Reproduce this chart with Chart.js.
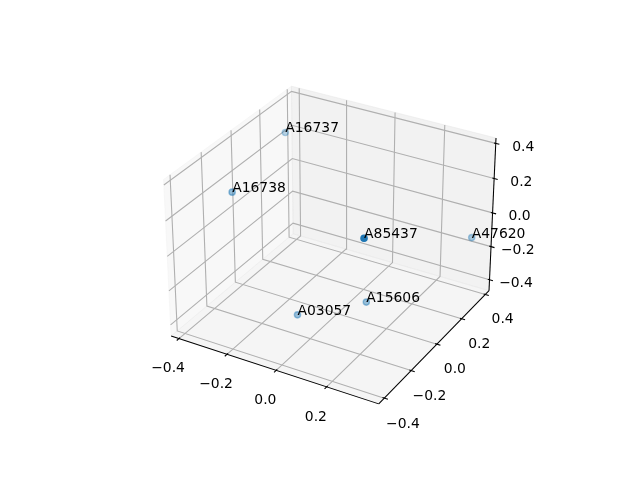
<!DOCTYPE html>
<html>
<head>
<meta charset="utf-8">
<script src="https://cdn.jsdelivr.net/npm/chart.js@4.4.0/dist/chart.umd.min.js"></script>
<style>
  html, body { margin: 0; padding: 0; background: #fff; }
  canvas { display: block; }
</style>
</head>
<body>
<canvas id="chart" width="640" height="480"></canvas>
<script>
// ---------------- Data ----------------
const pointLabels = ["A16737", "A16738", "A03057", "A85437", "A47620", "A15606"];
const xValues = [-0.36, -0.38, -0.087, 0.31, 0.348, 0.115];
const yValues = [0.257, -0.089, -0.139, -0.385, 0.376, 0.005];
const zValues = [0.289, 0.153, -0.41, 0.373, -0.13, -0.35];
const tickValues = [-0.4, -0.2, 0.0, 0.2, 0.4];

// ---------------- 3D view (elev 30, azim -60, perspective) ----------------
const elev = 30 * Math.PI / 180;
const azim = -60 * Math.PI / 180;
const dist = 10;
const aspectNorm = Math.hypot(4, 4, 3);
const box = [4, 4, 3].map(a => a * 1.8294640721620434 / aspectNorm);

function limitsOf(vals) {
  const lo = Math.min(...vals), hi = Math.max(...vals);
  const m = (hi - lo) * 0.05;
  return [lo - m, hi + m];
}
const lims = [limitsOf(xValues), limitsOf(yValues), limitsOf(zValues)];
// panes and axis lines sit a little outside the limits
const edges = lims.map(([lo, hi]) => { const d = (hi - lo) / 48; return [lo - d, hi + d]; });
const deltas = edges.map(([lo, hi]) => (hi - lo) / 12);

const dot = (a, b) => a[0] * b[0] + a[1] * b[1] + a[2] * b[2];
const w = [Math.cos(elev) * Math.cos(azim), Math.cos(elev) * Math.sin(azim), Math.sin(elev)];
const eye = box.map((b, i) => b / 2 + dist * w[i]);
let u = [-w[1], w[0], 0];
const un = Math.hypot(...u);
u = u.map(c => c / un);
const v = [w[1] * u[2] - w[2] * u[1], w[2] * u[0] - w[0] * u[2], w[0] * u[1] - w[1] * u[0]];

function project(x, y, z) {
  const p = [x, y, z].map((c, i) => (c - lims[i][0]) / (lims[i][1] - lims[i][0]) * box[i]);
  const d = p.map((c, i) => c - eye[i]);
  const vz = dot(w, d);
  return { x: dot(u, d) / -vz, y: dot(v, d) / -vz, depth: -vz };
}

const [x0, x1] = edges[0], [y0, y1] = edges[1], [z0, z1] = edges[2];
const ticksFor = i => tickValues.filter(t => t >= lims[i][0] - 1e-9 && t <= lims[i][1] + 1e-9);
const tickText = t => (t < 0 ? "\u2212" : "") + Math.abs(t).toFixed(1);

// ---------------- Datasets ----------------
const datasets = [];

// depth shading like matplotlib: nearest point opaque, farthest 0.3
const proj = xValues.map((x, i) => project(x, yValues[i], zValues[i]));
const zp = proj.map(p => -dist / p.depth);
const zMin = Math.min(...zp), zMax = Math.max(...zp);
const pointColors = zp.map(z => `rgba(31,119,180,${(1 - 0.7 * (z - zMin) / (zMax - zMin)).toFixed(3)})`);

datasets.push({
  data: proj.map(p => ({ x: p.x, y: p.y })),
  backgroundColor: pointColors,
  borderColor: pointColors,
  borderWidth: 1.4,
  pointRadius: 3.1,
  order: 0
});

function addLine(pts, color, width, order) {
  datasets.push({
    data: pts.map(p => { const q = project(...p); return { x: q.x, y: q.y }; }),
    showLine: true,
    borderColor: color,
    borderWidth: width,
    pointRadius: 0,
    fill: false,
    order: order
  });
}

// grid lines on the three back panes
ticksFor(0).forEach(t => addLine([[t, y0, z0], [t, y1, z0], [t, y1, z1]], "#b0b0b0", 1.1, 3));
ticksFor(1).forEach(t => addLine([[x1, t, z0], [x0, t, z0], [x0, t, z1]], "#b0b0b0", 1.1, 3));
ticksFor(2).forEach(t => addLine([[x0, y0, t], [x0, y1, t], [x1, y1, t]], "#b0b0b0", 1.1, 3));

// axis lines
addLine([[x0, y0, z0], [x1, y0, z0]], "#000", 1.04, 1);
addLine([[x1, y0, z0], [x1, y1, z0]], "#000", 1.04, 1);
addLine([[x1, y1, z0], [x1, y1, z1]], "#000", 1.04, 1);

// tick marks
ticksFor(0).forEach(t => addLine([[t, y0 - 0.2 * deltas[1], z0], [t, y0 + 0.1 * deltas[1], z0]], "#000", 1.1, 1));
ticksFor(1).forEach(t => addLine([[x1 + 0.2 * deltas[0], t, z0], [x1 - 0.1 * deltas[0], t, z0]], "#000", 1.1, 1));
ticksFor(2).forEach(t => addLine([[x1 + 0.2 * deltas[0], y1, t], [x1 - 0.1 * deltas[0], y1, t]], "#000", 1.1, 1));

// ---------------- Panes + text plugins ----------------
const panes = [
  { color: "rgba(242,242,242,0.5)", pts: [[x0, y0, z0], [x0, y1, z0], [x0, y1, z1], [x0, y0, z1]] },
  { color: "rgba(230,230,230,0.5)", pts: [[x0, y1, z0], [x1, y1, z0], [x1, y1, z1], [x0, y1, z1]] },
  { color: "rgba(236,236,236,0.5)", pts: [[x0, y0, z0], [x1, y0, z0], [x1, y1, z0], [x0, y1, z0]] }
];

const panePlugin = {
  id: "panes",
  beforeDatasetsDraw(chart) {
    const { ctx, scales } = chart;
    ctx.save();
    panes.forEach(pane => {
      ctx.beginPath();
      pane.pts.forEach((p, i) => {
        const q = project(...p);
        const px = scales.x.getPixelForValue(q.x), py = scales.y.getPixelForValue(q.y);
        if (i === 0) ctx.moveTo(px, py); else ctx.lineTo(px, py);
      });
      ctx.closePath();
      ctx.fillStyle = pane.color;
      ctx.fill();
      ctx.strokeStyle = pane.color;
      ctx.lineWidth = 1;
      ctx.stroke();
    });
    ctx.restore();
  }
};

const FONT_PX = 13.9;
const labelShift = 1.0372; // (pad + 8pt) * deltas per point

const textPlugin = {
  id: "texts",
  afterDatasetsDraw(chart) {
    const { ctx, scales } = chart;
    const at = p => { const q = project(...p); return [scales.x.getPixelForValue(q.x), scales.y.getPixelForValue(q.y)]; };
    ctx.save();
    ctx.font = `${FONT_PX}px "DejaVu Sans"`;
    ctx.fillStyle = "#000";

    // tick labels (centred, top aligned)
    ctx.textAlign = "center";
    ctx.textBaseline = "alphabetic";
    const asc = 0.76 * FONT_PX;
    ticksFor(0).forEach(t => {
      const [px, py] = at([t, y0 - labelShift * deltas[1], z0 - labelShift * deltas[2]]);
      ctx.fillText(tickText(t), px, py + asc);
    });
    ticksFor(1).forEach(t => {
      const [px, py] = at([x1 + labelShift * deltas[0], t, z0 - labelShift * deltas[2]]);
      ctx.fillText(tickText(t), px, py + asc);
    });
    ticksFor(2).forEach(t => {
      const [px, py] = at([x1 + labelShift * deltas[0], y1 + labelShift * deltas[1], t]);
      ctx.fillText(tickText(t), px, py + asc);
    });

    // point labels
    ctx.textAlign = "left";
    pointLabels.forEach((name, i) => {
      const [px, py] = at([xValues[i], yValues[i], zValues[i]]);
      ctx.fillText(name, px, py);
    });
    ctx.restore();
  }
};

// ---------------- Chart ----------------
new Chart(document.getElementById("chart"), {
  type: "scatter",
  data: { datasets },
  options: {
    responsive: false,
    animation: false,
    devicePixelRatio: 1,
    layout: { padding: { left: 143.2, top: 57.6, right: 127.2, bottom: 52.8 } },
    scales: {
      x: { type: "linear", min: -0.095, max: 0.09, display: false },
      y: { type: "linear", min: -0.095, max: 0.09, display: false }
    },
    plugins: { legend: { display: false }, tooltip: { enabled: false } },
    elements: { line: { tension: 0 } }
  },
  plugins: [panePlugin, textPlugin]
});
</script>
</body>
</html>
